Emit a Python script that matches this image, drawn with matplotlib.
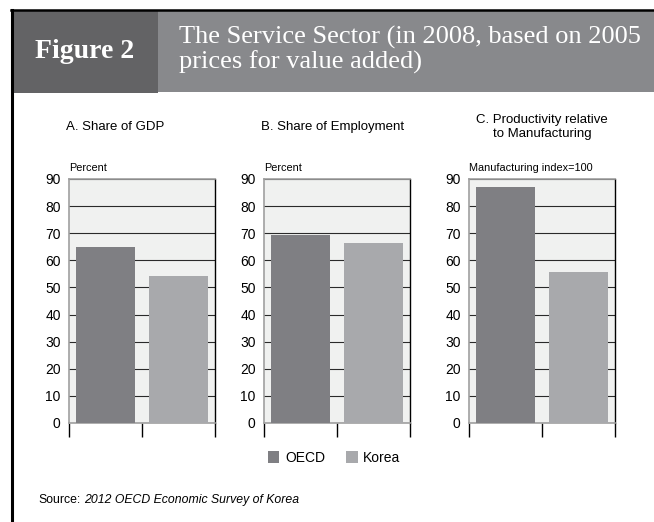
import matplotlib
matplotlib.use("Agg")
import matplotlib.pyplot as plt
from matplotlib.patches import Rectangle
from matplotlib.lines import Line2D

W, H = 654, 522

series = ["OECD", "Korea"]
colors = ["#7f7f83", "#a8a9ac"]
panel_titles = ["A. Share of GDP", "B. Share of Employment", "C. Productivity relative\nto Manufacturing"]
units = ["Percent", "Percent", "Manufacturing index=100"]
share_gdp = [65.0, 54.2]
share_employment = [69.5, 66.5]
productivity = [87.0, 55.7]
panel_values = [share_gdp, share_employment, productivity]
yticks = [0, 10, 20, 30, 40, 50, 60, 70, 80, 90]

SANS = ["Liberation Sans", "DejaVu Sans"]
SERIF = ["Liberation Serif", "DejaVu Serif"]

fig = plt.figure(figsize=(W / 100, H / 100), dpi=100)
fig.patch.set_facecolor("white")

def fx(px):
    return px / W

def fy(py):
    return 1 - py / H

# header boxes
fig.add_artist(Rectangle((fx(13), fy(93)), fx(158 - 13), (93 - 11) / H,
                         transform=fig.transFigure, facecolor="#636365", edgecolor="none"))
fig.add_artist(Rectangle((fx(158), fy(92)), fx(654 - 158), (92 - 11) / H,
                         transform=fig.transFigure, facecolor="#88898c", edgecolor="none"))
# borders
fig.add_artist(Line2D([fx(11), 1], [fy(10), fy(10)], transform=fig.transFigure,
                      color="black", lw=1.8))
fig.add_artist(Line2D([fx(12), fx(12)], [fy(10), 0], transform=fig.transFigure,
                      color="black", lw=2.2))

fig.text(fx(85), fy(51), "Figure 2", family=SERIF, weight="bold", fontsize=20,
         color="white", ha="center", va="center")
fig.text(fx(179), fy(50), "The Service Sector (in 2008, based on 2005\nprices for value added)",
         family=SERIF, fontsize=19, color="white", ha="left", va="center",
         linespacing=1.08)

lefts = [69, 264, 469]
title_pos = [(66, "left"), (261, "left"), (542, "center")]
for i, (vals, left) in enumerate(zip(panel_values, lefts)):
    ax = fig.add_axes([fx(left), fy(423), fx(146), (423 - 179) / H])
    ax.set_facecolor("#f0f1f0")
    ax.set_axisbelow(True)
    ax.bar(range(len(series)), vals, width=0.82, color=colors, zorder=3)
    ax.set_xlim(-0.5, 1.5)
    ax.set_ylim(0, 90)
    ax.set_yticks(yticks)
    ax.set_yticklabels([str(t) for t in yticks], family=SANS, fontsize=10)
    ax.yaxis.grid(True, color="#2a2a2a", lw=0.8)
    ax.tick_params(axis="y", length=0, pad=6)
    ax.set_xticks([-0.5, 0.5, 1.5])
    ax.set_xticklabels([])
    ax.tick_params(axis="x", length=10, width=1, color="black", direction="out")
    for side in ["left", "top", "bottom"]:
        ax.spines[side].set_color("#a0a0a0")
        ax.spines[side].set_linewidth(1.2)
    ax.spines["right"].set_color("black")
    ax.spines["right"].set_linewidth(1.0)
    ax.text(0, 1.045, units[i], transform=ax.transAxes, family=SANS, fontsize=7.8,
            ha="left", va="center")
    tx, ha = title_pos[i]
    fig.text(fx(tx), fy(127), panel_titles[i], family=SANS, fontsize=9.5,
             ha=ha, va="center", linespacing=1.3)

handles = [Rectangle((0, 0), 1, 1, facecolor=c, edgecolor="none") for c in colors]
fig.legend(handles, series, loc="center", bbox_to_anchor=(fx(334), fy(458)), ncol=2,
           frameon=False, prop={"family": SANS, "size": 10}, handlelength=0.85,
           handleheight=1.0, columnspacing=1.5, handletextpad=0.4)

src = fig.text(fx(38), fy(500), "Source:", family=SANS, fontsize=8.8, ha="left", va="center")
renderer = fig.canvas.get_renderer()
bb = src.get_window_extent(renderer=renderer)
fig.text(fx(bb.x1 + 4), fy(500), "2012 OECD Economic Survey of Korea", family=SANS,
         fontsize=8.8, style="italic", ha="left", va="center")

fig.savefig("out.png", dpi=100)
